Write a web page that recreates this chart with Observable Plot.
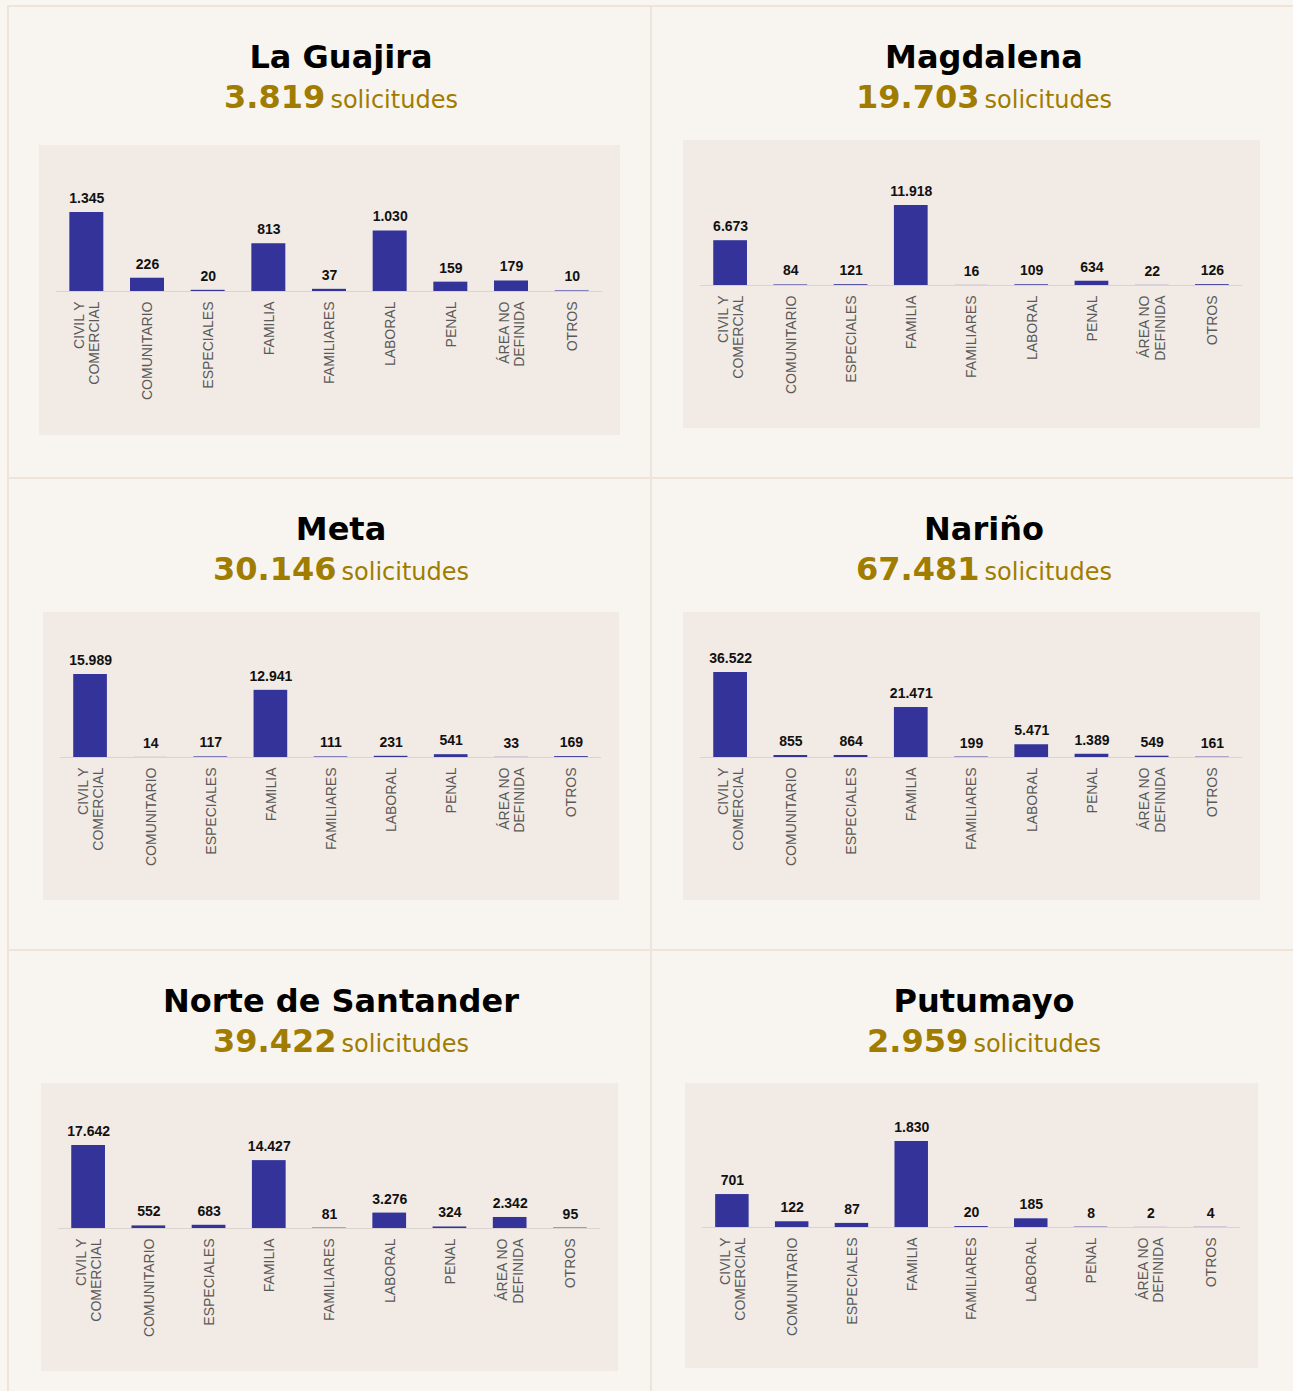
<!DOCTYPE html>
<html>
<head>
<meta charset="utf-8">
<script src="https://cdn.jsdelivr.net/npm/d3@7"></script>
<script src="https://cdn.jsdelivr.net/npm/@observablehq/plot@0.6"></script>
<style>
  html, body { margin: 0; padding: 0; background: #f9f6f2; }
  body { width: 1293px; height: 1391px; position: relative; overflow: hidden; }
  .line { position: absolute; background: #efe4da; }
  .panel { position: absolute; background: #f8f5f1; }
  .title { position: absolute; left: 0; width: 666px; top: 31px; text-align: center;
           font-family: "DejaVu Sans", Verdana, sans-serif; }
  .title .name { font-size: 32px; font-weight: bold; color: #000; display: block; line-height: 41px; }
  .title .sub { display: block; color: #a07c00; line-height: 39px; }
  .title .num { font-size: 32px; font-weight: bold; }
  .title .word { font-size: 24px; }
  .box { position: absolute; }
  .box svg { display: block; }
</style>
</head>
<body>
<script>
// ---- data ----
const categories = ["CIVIL Y\nCOMERCIAL", "COMUNITARIO", "ESPECIALES", "FAMILIA", "FAMILIARES", "LABORAL", "PENAL", "ÁREA NO\nDEFINIDA", "OTROS"];
const regions = ["La Guajira", "Magdalena", "Meta", "Nariño", "Norte de Santander", "Putumayo"];
const totals = [3819, 19703, 30146, 67481, 39422, 2959];
const laGuajira = [1345, 226, 20, 813, 37, 1030, 159, 179, 10];
const magdalena = [6673, 84, 121, 11918, 16, 109, 634, 22, 126];
const meta = [15989, 14, 117, 12941, 111, 231, 541, 33, 169];
const narino = [36522, 855, 864, 21471, 199, 5471, 1389, 549, 161];
const norteSantander = [17642, 552, 683, 14427, 81, 3276, 324, 2342, 95];
const putumayo = [701, 122, 87, 1830, 20, 185, 8, 2, 4];
const series = [laGuajira, magdalena, meta, narino, norteSantander, putumayo];

// ---- layout (page px) ----
const panelPos = [[8, 6, 643], [651, 6, 642], [8, 478, 643], [651, 478, 642], [8, 950, 643], [651, 950, 642]];
const boxPos = [[39, 145, 581, 290], [683, 140, 577, 288], [43, 612, 576, 288], [683, 612, 577, 288], [41, 1083, 577, 288], [685, 1083, 573, 285]];
const baselines = [146, 145, 145, 145, 145, 144];
const topMargins = [67, 65, 62, 60, 62, 58];

const locale = d3.formatLocale({decimal: ",", thousands: ".", grouping: [3], currency: ["$", ""]});
const fmt = locale.format(",d");

// panels
panelPos.forEach(([x, y, w]) => {
  const p = document.createElement("div");
  p.className = "panel";
  Object.assign(p.style, {left: x + "px", top: y + "px", width: w + "px", height: "472px"});
  document.body.appendChild(p);
});
// grid lines
const lines = [
  [8, 5, 1285, 2], [7, 5, 2, 1386], [650, 5, 2, 1386], [8, 477, 1285, 2], [8, 949, 1285, 2]
];
lines.forEach(([x, y, w, h]) => {
  const l = document.createElement("div");
  l.className = "line";
  Object.assign(l.style, {left: x + "px", top: y + "px", width: w + "px", height: h + "px"});
  document.body.appendChild(l);
});

regions.forEach((name, i) => {
  const [px, py, pw] = panelPos[i];
  const t = document.createElement("div");
  t.className = "title";
  t.style.left = px + "px";
  t.style.top = (py + 31) + "px";
  t.innerHTML = `<span class="name">${name}</span><span class="sub"><span class="num">${fmt(totals[i])}</span> <span class="word">solicitudes</span></span>`;
  document.body.appendChild(t);

  const [bx, by, bw, bh] = boxPos[i];
  const data = categories.map((c, j) => ({cat: c, value: series[i][j]}));
  const baseline = baselines[i];
  const chart = Plot.plot({
    width: bw,
    height: bh,
    marginLeft: 17,
    marginRight: 18,
    marginTop: topMargins[i],
    marginBottom: bh - baseline,
    style: {background: "#f2eae4", fontFamily: "'Liberation Sans', Arial, sans-serif", overflow: "visible"},
    x: {domain: categories, paddingInner: 0.44, paddingOuter: 0.22, round: false, label: null, axis: null},
    y: {domain: [0, d3.max(data, d => d.value)], axis: null, nice: false},
    marks: [
      Plot.ruleY([0], {stroke: "#d9d4d0", strokeWidth: 1}),
      Plot.barY(data, {x: "cat", y: "value", fill: "#333399"}),
      Plot.text(data, {x: "cat", y: "value", text: d => fmt(d.value), dy: -14, fontSize: 14, fontWeight: "bold", fill: "#111"}),
      Plot.axisX({tickRotate: -90, tickSize: 0, tickPadding: 10, fontSize: 14, fill: "#595959", lineHeight: 1.1, label: null})
    ]
  });
  const b = document.createElement("div");
  b.className = "box";
  Object.assign(b.style, {left: bx + "px", top: by + "px", width: bw + "px", height: bh + "px"});
  b.appendChild(chart);
  document.body.appendChild(b);
});
</script>
</body>
</html>
